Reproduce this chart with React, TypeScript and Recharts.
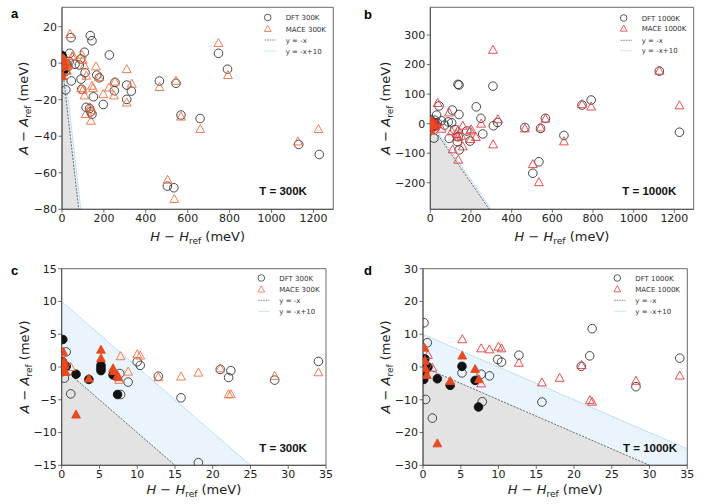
import React from 'react';
import { ComposedChart, Scatter, Area, XAxis, YAxis, ReferenceLine, ReferenceArea } from 'recharts';

type Pt = [number, number];

const xTicksWide = [0, 200, 400, 600, 800, 1000, 1200];
const xTicksNarrow = [0, 5, 10, 15, 20, 25, 30, 35];
const yTicksA = [-80, -60, -40, -20, 0, 20];
const yTicksB = [-200, -100, 0, 100, 200, 300];
const yTicksC = [-15, -10, -5, 0, 5, 10, 15];
const yTicksD = [-30, -20, -10, 0, 10, 20, 30];

// low-H configurations: panels c, d (and the cluster at the origin of a, b)
const dft300Open: Pt[] = [
  [0.6, 2.3], [0.35, -1.7], [1.2, -4.1], [7.7, -1.0], [7.8, -4.2], [8.8, -2.3], [10.0, 0.8], [10.4, 0.25],
  [12.8, -1.4], [15.8, -4.7], [18.1, -14.6], [21.0, -0.36], [22.1, -1.6], [22.4, -0.56], [28.2, -2.0], [34.0, 0.86],
];
const dft300Filled: Pt[] = [
  [0.15, 4.2], [0.1, 0.8], [0.25, 0.4], [0.35, -0.2], [0.1, -0.7], [0.6, 0.1], [1.9, -1.1], [3.6, -1.9],
  [5.2, 0.25], [5.2, -0.15], [5.2, -0.55], [6.8, -1.2], [7.0, -1.2], [7.4, -4.2],
];
const mace300Open: Pt[] = [
  [1.2, -0.05], [7.8, 1.6], [7.6, -2.0], [8.8, -0.75], [10.0, 1.9], [10.4, 1.7], [12.8, -1.6], [15.8, -1.5],
  [18.1, -0.9], [21.0, -0.25], [22.1, -4.2], [22.4, -4.2], [28.2, -1.4], [34.0, -0.85],
];
const mace300Filled: Pt[] = [
  [0.2, 2.3], [0.3, 0.9], [0.4, 0.3], [0.5, -0.8], [0.15, -0.3], [1.9, -7.3], [3.6, -1.8], [5.2, 2.6],
  [5.2, 1.3], [6.8, -0.25], [6.9, -0.65], [7.4, -1.3], [7.5, -1.6],
];
const dft1000Open: Pt[] = [
  [0.13, 13.5], [0.57, 7.4], [0.35, -9.9], [1.24, -15.6], [5.16, -1.8], [7.7, -2.2], [7.85, -10.6], [8.8, -2.7],
  [9.9, 2.3], [10.4, 1.5], [12.7, 3.6], [15.75, -10.7], [20.96, 0.2], [22.07, 3.4], [22.4, 11.7], [28.2, -6.0], [34.0, 2.7],
];
const dft1000Filled: Pt[] = [
  [0.25, 2.5], [0.1, -0.5], [0.2, -2.0], [0.1, -3.8], [0.66, 0], [1.9, -3.6], [3.6, -5.6], [5.16, 0.2],
  [6.9, -4.1], [7.35, -12.2],
];
const mace1000Open: Pt[] = [
  [0.66, 3.6], [1.24, -0.3], [5.2, 8.4], [7.7, 5.6], [7.7, -5.1], [8.8, 5.3], [10.0, 6.1], [10.4, 5.6],
  [12.7, 1.2], [15.75, -4.8], [18.1, -3.4], [21.0, 0.5], [22.1, -10.2], [22.4, -10.7], [28.2, -4.3], [34.0, -2.7],
];
const mace1000Filled: Pt[] = [
  [0.2, 5.8], [0.25, 1.8], [0.3, -0.5], [0.5, -2.5], [1.9, -23.4], [3.6, -4.4], [5.2, 3.4], [6.9, -0.7], [7.4, -3.8],
];

// configurations with larger H (panels a, b only)
const dft300Wide: Pt[] = [
  [37, 5.4], [43, 14.0], [44.5, -9.7], [62, -0.6], [83, -1.0], [89, 2.3], [91, -8.7], [94, -14.3], [107, 6],
  [110, -5.2], [115, -24.2], [132, -24.8], [135, 15.1], [137, -26.6], [143, 12.3], [143, -28], [150, -18.4],
  [166, -6.5], [178, -8], [197, -22.6], [226, 4.5], [250, -15.1], [253, -10.5], [309, -12], [309, -19.8],
  [331, -15.3], [465, -9.8], [503, -67.3], [534, -68.2], [544, -11], [568, -28.4], [659, -30.3], [747, 5.4],
  [790, -3.3], [1130, -44.5], [1228, -50],
];
const mace300Wide: Pt[] = [
  [38, 15.8], [48, 3.6], [54, 3.9], [95, 4.5], [99, 1.7], [107, -1.4], [116, -7], [92, -13.8], [100, -14.7],
  [107, -17.8], [113, -28], [134, -24.2], [138, -31.7], [145, -26], [143, -12.5], [148, -13.8], [162, -1.9],
  [177, -7.8], [197, -17.1], [224, -13.5], [248, -17.8], [253, -10.2], [309, -3.4], [309, -21.7], [333, -11.4],
  [465, -13.2], [504, -64], [536, -74.5], [544, -9.8], [568, -29.4], [660, -36.2], [747, 10.9], [792, -6.6],
  [1126, -43], [1224, -36.2],
];
const dft1000Wide: Pt[] = [
  [18, -49], [31, 29], [43, 60], [55, 10], [70, -5], [88, 6], [93, -50], [105, 3], [108, 46], [120, -20],
  [133, -61], [136, 133], [137, -44], [141, 131], [141, 31], [142, -89], [179, -25], [195, -59], [226, 57],
  [249, 18], [258, -35], [308, 127], [310, -7], [331, 4], [465, -13], [504, -168], [534, -129], [542, -16],
  [566, 18], [657, -40], [746, 63], [791, 80], [1126, 178], [1225, -29],
];
const mace1000Wide: Pt[] = [
  [36, 69], [56, -18], [92, 37], [105, -27], [110, -88], [128, -35], [136, -47], [137, -22], [137, -123],
  [152, -42], [160, -8], [160, -78], [196, -24], [198, -53], [201, -20], [224, -46], [250, -1], [308, 249],
  [309, -71], [332, 14], [465, -17], [504, -138], [534, -199], [542, -14], [566, 16], [657, -61], [746, 65],
  [791, 57], [1126, 178], [1225, 61],
];

const W = 353;
const H = 252;
const YW = 40;
const XH = 20;
const GRAY = '#e3e3e3';
const BLUE = '#eaf4fd';
const CIRCLE = '#333';
const FILL_TRI = '#e8491e';

const minus = (v: number) => String(v).replace('-', '\u2212');
const toXY = (pts: Pt[], xd: number[], yd: number[]) =>
  pts.filter(([x, y]) => x >= xd[0] && x <= xd[1] && y >= yd[0] && y <= yd[1]).map(([x, y]) => ({ x, y }));

const circleShape = (filled: boolean) => (p: any) => (
  <circle cx={p.cx} cy={p.cy} r={4.3} fill={filled ? '#111' : 'none'} stroke={filled ? '#111' : CIRCLE} strokeWidth={0.9} />
);
const triShape = (color: string, filled: boolean) => (p: any) => (
  <polygon
    points={`${p.cx},${p.cy - 4.8} ${p.cx - 4.4},${p.cy + 3.2} ${p.cx + 4.4},${p.cy + 3.2}`}
    fill={filled ? color : 'none'}
    stroke={color}
    strokeWidth={0.9}
  />
);

const panels = [
  {
    letter: 'a', left: 0, top: 0, margin: { top: 7.3, right: 19.7, bottom: 22.7, left: 22 },
    xDomain: [0, 1295], yDomain: [-80, 30.6], xTicks: xTicksWide, yTicks: yTicksA,
    circles: [...dft300Open, ...dft300Wide], circlesFilled: dft300Filled,
    tris: [...mace300Open, ...mace300Wide], trisFilled: mace300Filled,
    triColor: '#f36d3f', names: ['DFT 300K', 'MACE 300K'], temp: 'T = 300K',
    tempX: 259.3, tempY: 195, legendX: 285.7, rows: [17.5, 29, 40, 51], letterY: 18.3, yLabelX: 28.5, xLabelY: 240.5,
  },
  {
    letter: 'b', left: 353, top: 0, margin: { top: 7.3, right: 12.3, bottom: 22.7, left: 37.3 },
    xDomain: [0, 1295], yDomain: [-290, 394], xTicks: xTicksWide, yTicks: yTicksB,
    circles: [...dft1000Open, ...dft1000Wide], circlesFilled: dft1000Filled,
    tris: [...mace1000Open, ...mace1000Wide], trisFilled: mace1000Filled,
    triColor: '#ec3a3a', names: ['DFT 1000K', 'MACE 1000K'], temp: 'T = 1000K',
    tempX: 269.3, tempY: 195, legendX: 288.7, rows: [18, 28.7, 40.3, 50.7], letterY: 19, yLabelX: 36.7, xLabelY: 240.5,
  },
  {
    letter: 'c', left: 0, top: 252, margin: { top: 16.7, right: 27, bottom: 18.7, left: 21.7 },
    xDomain: [0, 35], yDomain: [-15, 15], xTicks: xTicksNarrow, yTicks: yTicksC,
    circles: dft300Open, circlesFilled: dft300Filled, tris: mace300Open, trisFilled: mace300Filled,
    triColor: '#f36d3f', names: ['DFT 300K', 'MACE 300K'], temp: 'T = 300K',
    tempX: 259.3, tempY: 200, legendX: 279.3, rows: [26, 37.5, 48.3, 59.5], letterY: 23.3, yLabelX: 29, xLabelY: 242,
  },
  {
    letter: 'd', left: 353, top: 252, margin: { top: 16.7, right: 18.7, bottom: 18.7, left: 30 },
    xDomain: [0, 35], yDomain: [-30, 30], xTicks: xTicksNarrow, yTicks: yTicksD,
    circles: dft1000Open, circlesFilled: dft1000Filled, tris: mace1000Open, trisFilled: mace1000Filled,
    triColor: '#ec3a3a', names: ['DFT 1000K', 'MACE 1000K'], temp: 'T = 1000K',
    tempX: 270, tempY: 200, legendX: 282.3, rows: [26, 37.3, 48.3, 59.3], letterY: 23.3, yLabelX: 37.3, xLabelY: 242,
  },
];

const axisProps = {
  tick: { fontSize: 11, fill: '#222', fontFamily: 'DejaVu Sans' },
  tickLine: { stroke: '#444', strokeWidth: 0.8 },
  axisLine: { stroke: '#444', strokeWidth: 0.8 },
  tickSize: 3.5,
  tickMargin: 1.5,
  tickFormatter: minus,
  interval: 0 as const,
  allowDataOverflow: true,
};

function Panel(p: typeof panels[number]) {
  const [xMin, xMax] = p.xDomain;
  const [yMin, yMax] = p.yDomain;
  const xCross = -yMin;
  const xEnd = Math.min(xMax, 10 - yMin);
  const below = [{ x: 0, y: 0 }, { x: xCross, y: yMin }];
  const band = [
    { x: 0, band: [0, 10] },
    { x: xCross, band: [yMin, yMin + 10] },
    { x: xEnd, band: [yMin, 10 - xEnd] },
  ];
  const plotLeft = p.margin.left + YW;
  const plotRight = W - p.margin.right;
  const plotTop = p.margin.top;
  const plotBottom = H - p.margin.bottom - XH;
  const lx = p.legendX;
  const legendFont = { fontSize: 7, fill: '#333', fontFamily: 'DejaVu Sans' };

  return (
    <div style={{ position: 'absolute', left: p.left, top: p.top, width: W, height: H }}>
      <ComposedChart width={W} height={H} margin={p.margin}>
        <XAxis type="number" dataKey="x" domain={p.xDomain} ticks={p.xTicks} height={XH} {...axisProps} />
        <YAxis type="number" dataKey="y" domain={p.yDomain} ticks={p.yTicks} width={YW} {...axisProps} />
        <Area data={below} dataKey="y" baseValue={yMin} type="linear" stroke="none" fill={GRAY} fillOpacity={1}
          dot={false} activeDot={false} isAnimationActive={false} />
        <Area data={band} dataKey="band" type="linear" stroke="none" fill={BLUE} fillOpacity={1}
          dot={false} activeDot={false} isAnimationActive={false} />
        <ReferenceLine segment={[{ x: 0, y: 0 }, { x: xCross, y: yMin }]} stroke="#333" strokeWidth={0.7}
          strokeDasharray="2.2 1.2" />
        <ReferenceLine segment={[{ x: 0, y: 10 }, { x: xEnd, y: 10 - xEnd }]} stroke="#86c2ef" strokeWidth={0.8}
          strokeDasharray="1.2 0.8" />
        <Scatter data={toXY(p.circles, p.xDomain, p.yDomain)} shape={circleShape(false)} isAnimationActive={false} />
        <Scatter data={toXY(p.circlesFilled, p.xDomain, p.yDomain)} shape={circleShape(true)} isAnimationActive={false} />
        <Scatter data={toXY(p.tris, p.xDomain, p.yDomain)} shape={triShape(p.triColor, false)} isAnimationActive={false} />
        <Scatter data={toXY(p.trisFilled, p.xDomain, p.yDomain)} shape={triShape(FILL_TRI, true)} isAnimationActive={false} />
        <ReferenceArea x1={xMin} x2={xMax} y1={yMin} y2={yMax} fill="none" stroke="#444" strokeWidth={0.8}
          ifOverflow="visible" />
      </ComposedChart>
      <svg width={W} height={H} style={{ position: 'absolute', left: 0, top: 0, pointerEvents: 'none' }}>
        <text x={11} y={p.letterY} fontSize={13} fontWeight="bold" fontFamily="Liberation Sans, Arial">{p.letter}</text>

        <circle cx={lx - 18} cy={p.rows[0]} r={3.3} fill="none" stroke={CIRCLE} strokeWidth={0.8} />
        <text x={lx} y={p.rows[0] + 2.5} {...legendFont}>{p.names[0]}</text>
        <polygon
          points={`${lx - 18},${p.rows[1] - 3.7} ${lx - 21.4},${p.rows[1] + 2.5} ${lx - 14.6},${p.rows[1] + 2.5}`}
          fill="none" stroke={p.triColor} strokeWidth={0.8} />
        <text x={lx} y={p.rows[1] + 2.5} {...legendFont}>{p.names[1]}</text>
        <line x1={lx - 21} x2={lx - 10} y1={p.rows[2]} y2={p.rows[2]} stroke="#333" strokeWidth={0.6} strokeDasharray="1.6 0.9" />
        <text x={lx} y={p.rows[2] + 2.5} {...legendFont}>y = -x</text>
        <line x1={lx - 21} x2={lx - 10} y1={p.rows[3]} y2={p.rows[3]} stroke="#86c2ef" strokeWidth={0.7} strokeDasharray="1 0.7" />
        <text x={lx} y={p.rows[3] + 2.5} {...legendFont}>y = -x+10</text>

        <text x={p.tempX} y={p.tempY} fontSize={11.5} fontWeight="bold" fontFamily="Liberation Sans, Arial" fill="#111">
          {p.temp}
        </text>

        <text x={(plotLeft + plotRight) / 2} y={p.xLabelY} textAnchor="middle" fontSize={13} fontFamily="DejaVu Sans" fill="#222">
          <tspan fontStyle="italic">H</tspan>
          <tspan>{' \u2212 '}</tspan>
          <tspan fontStyle="italic">H</tspan>
          <tspan fontSize={9} dy={3}>ref</tspan>
          <tspan dy={-3}>{' (meV)'}</tspan>
        </text>
        <text
          x={p.yLabelX}
          y={(plotTop + plotBottom) / 2}
          transform={`rotate(-90 ${p.yLabelX} ${(plotTop + plotBottom) / 2})`}
          textAnchor="middle" fontSize={13} fontFamily="DejaVu Sans" fill="#222"
        >
          <tspan fontStyle="italic">A</tspan>
          <tspan>{' \u2212 '}</tspan>
          <tspan fontStyle="italic">A</tspan>
          <tspan fontSize={9} dy={3}>ref</tspan>
          <tspan dy={-3}>{' (meV)'}</tspan>
        </text>
      </svg>
    </div>
  );
}

export default function App() {
  return (
    <div style={{ position: 'absolute', left: 0, top: 0, width: 706, height: 504, background: '#fff' }}>
      {panels.map((p) => (
        <Panel key={p.letter} {...p} />
      ))}
    </div>
  );
}
